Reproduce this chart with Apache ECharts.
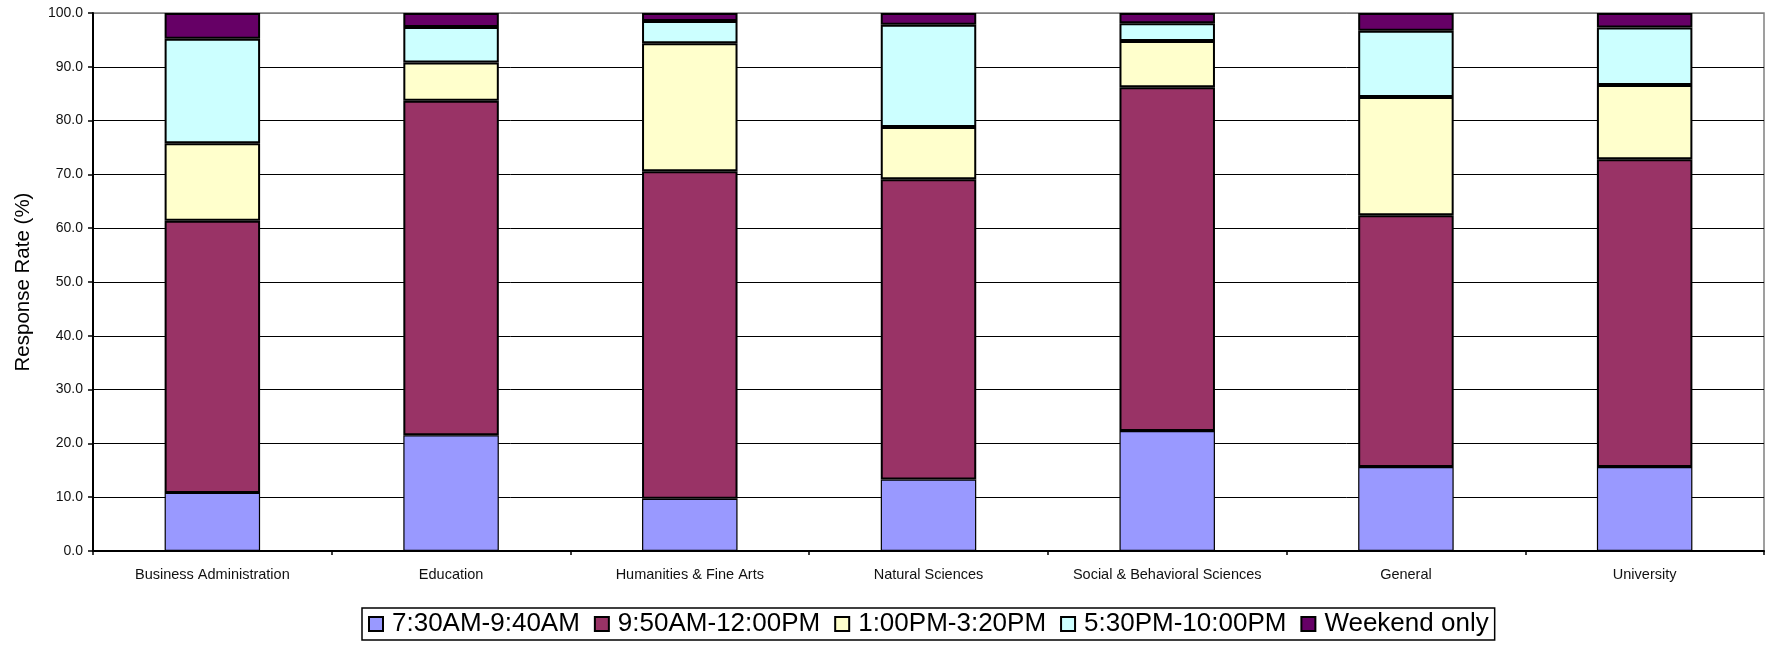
<!DOCTYPE html>
<html>
<head>
<meta charset="utf-8">
<script src="https://cdn.jsdelivr.net/npm/echarts@6/dist/echarts.min.js"></script>
<style>
html,body{margin:0;padding:0;background:#fff;}
#chart{width:1765px;height:646px;}
</style>
</head>
<body>
<div id="chart"></div>
<script>
const categories = ['Business Administration','Education','Humanities & Fine Arts','Natural Sciences','Social & Behavioral Sciences','General','University'];
const seriesNames = ['7:30AM-9:40AM','9:50AM-12:00PM','1:00PM-3:20PM','5:30PM-10:00PM','Weekend only'];
const earlyMorning = [10.8, 21.5, 9.7, 13.3, 22.3, 15.6, 15.6];
const lateMorning  = [50.6, 62.2, 60.9, 55.8, 63.9, 46.8, 57.2];
const afternoon    = [14.4, 7.1, 23.8, 9.7, 8.6, 22.0, 13.8];
const evening      = [19.4, 6.6, 4.1, 19.0, 3.3, 12.3, 10.7];
const weekendOnly  = [4.8, 2.6, 1.5, 2.2, 1.9, 3.3, 2.7];
const seriesValues = [earlyMorning, lateMorning, afternoon, evening, weekendOnly];
const seriesColors = ['#9999FF','#993366','#FFFFCC','#CCFFFF','#660066'];
const borderWidths = [1.2, 2, 2, 2, 2];
const yTicks = [0,10,20,30,40,50,60,70,80,90,100];

const font = 'Liberation Sans, Arial, sans-serif';
const chart = echarts.init(document.getElementById('chart'), null, {renderer:'canvas'});
const splitColors = yTicks.map((t,i)=> i === yTicks.length-1 ? '#808080' : '#000000');

chart.setOption({
  animation: false,
  backgroundColor: '#ffffff',
  textStyle: {fontFamily: font},
  grid: {left: 93, right: 1, top: 13, bottom: 95, show: true, borderColor: '#808080', borderWidth: 1.5},
  legend: {
    data: seriesNames,
    left: 362, top: 608,
    width: 1135,
    orient: 'horizontal',
    icon: 'rect',
    itemWidth: 14, itemHeight: 14,
    itemGap: 14,
    padding: [3, 6, 3, 6],
    borderColor: '#000', borderWidth: 1.5,
    textStyle: {fontFamily: font, fontSize: 26, color: '#000', padding: [0,0,0,4]}
  },
  xAxis: {
    type: 'category',
    data: categories,
    boundaryGap: true,
    axisLine: {lineStyle: {color: '#000', width: 2}},
    axisTick: {show: true, length: 4, inside: false, lineStyle: {color: '#000', width: 1.5}},
    axisLabel: {fontFamily: font, fontSize: 14.5, color: '#111', margin: 16, interval: 0},
    splitLine: {show: false}
  },
  yAxis: {
    type: 'value',
    min: 0, max: 100, interval: 10,
    name: 'Response Rate (%)',
    nameLocation: 'middle',
    nameRotate: 90,
    nameGap: 59,
    nameTextStyle: {fontFamily: font, fontSize: 20.5, color: '#000'},
    axisLine: {show: true, lineStyle: {color: '#000', width: 2}},
    axisTick: {show: true, length: 5, lineStyle: {color: '#000', width: 1.5}},
    axisLabel: {fontFamily: font, fontSize: 14, color: '#111', margin: 10, formatter: v => v.toFixed(1)},
    splitLine: {show: true, lineStyle: {color: splitColors, width: 1}}
  },
  series: seriesNames.map((name, i) => ({
    name: name,
    type: 'bar',
    stack: 'total',
    barWidth: '40%',
    data: seriesValues[i],
    itemStyle: {color: seriesColors[i], borderColor: '#000', borderWidth: borderWidths[i]}
  }))
});
</script>
</body>
</html>
